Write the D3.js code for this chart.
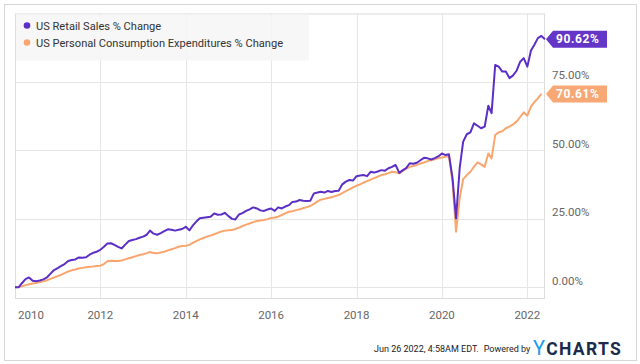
<!DOCTYPE html>
<html>
<head>
<meta charset="utf-8">
<script src="https://cdn.jsdelivr.net/npm/d3@7"></script>
<style>
  html, body { margin: 0; padding: 0; background: #fff; }
  svg { display: block; font-family: Roboto, "Noto Sans", sans-serif; }
</style>
</head>
<body>
<svg id="chart" width="640" height="364"></svg>
<script>
// ---- Data (monthly, first value = base month Dec 2009) ----
const startMonth = "2009-12";
const seriesNames = ["US Retail Sales % Change", "US Personal Consumption Expenditures % Change"];
const retailSales = [
  0, 0, 1.5, 3.0, 3.6, 2.4, 2.2, 2.5, 2.9, 3.6, 5.0, 6.3,
  7.0, 7.8, 8.5, 9.6, 10.0, 10.2, 10.9, 10.8, 11.0, 11.9, 12.6, 13.0,
  13.7, 14.8, 16.0, 16.1, 15.5, 14.8, 14.2, 15.6, 16.9, 17.3, 17.6, 18.1,
  18.5, 19.2, 20.7, 19.6, 19.2, 19.8, 20.5, 21.2, 21.0, 20.7, 21.0, 21.3,
  22.1, 20.8, 22.5, 24.0, 25.2, 25.4, 25.6, 25.8, 27.0, 26.5, 26.6, 27.2,
  26.0, 25.0, 24.8, 26.6, 27.1, 27.9, 28.5, 29.2, 28.8, 28.1, 27.9, 28.4,
  28.8, 27.9, 29.2, 28.8, 29.5, 30.0, 31.2, 31.3, 31.9, 31.6, 31.5, 31.6,
  34.3, 34.6, 34.9, 34.6, 35.2, 34.8, 35.2, 35.3, 37.6, 38.6, 39.2, 39.0,
  40.6, 40.8, 41.0, 40.6, 42.2, 41.9, 42.3, 42.8, 42.6, 43.5, 44.0, 44.7,
  41.8, 42.8, 43.5, 45.3, 45.1, 45.5, 46.4, 47.3, 47.1, 46.7, 47.2, 47.8,
  48.9, 48.3, 48.6, 39.8, 25.2, 43.5, 53.2, 55.9, 56.6, 59.9, 59.0, 58.1,
  58.7, 66.3, 63.6, 81.2, 80.6, 78.8, 78.8, 76.4, 77.4, 79.1, 82.4, 83.7,
  80.6, 86.5, 88.5, 91.0, 91.8, 90.62
];
const pce = [
  0, 0.1, 0.4, 0.8, 1.1, 1.4, 1.6, 1.9, 2.2, 2.6, 3.1, 3.6,
  4.1, 4.6, 5.2, 5.8, 6.2, 6.5, 6.9, 7.1, 7.3, 7.5, 7.6, 7.8,
  7.9, 8.5, 9.5, 9.7, 9.6, 9.6, 9.8, 10.2, 10.6, 11.0, 11.4, 11.8,
  12.1, 12.5, 12.9, 12.5, 12.4, 12.7, 13.0, 13.5, 13.9, 14.3, 14.8, 15.1,
  15.2, 15.5, 16.2, 16.9, 17.5, 18.0, 18.5, 18.9, 19.4, 19.9, 20.4, 20.7,
  20.8, 20.9, 21.3, 21.8, 22.4, 22.9, 23.3, 23.8, 24.2, 24.4, 24.6, 24.9,
  25.3, 25.5, 25.8, 26.4, 27.0, 27.6, 27.8, 28.2, 28.5, 28.9, 29.3, 29.7,
  30.5, 31.4, 32.0, 32.3, 32.6, 32.9, 33.3, 33.7, 34.4, 35.1, 35.8, 36.5,
  37.1, 37.6, 38.2, 38.8, 39.3, 39.9, 40.4, 41.0, 41.3, 41.7, 42.2, 42.0,
  41.6, 42.5, 43.3, 44.0, 44.3, 44.7, 45.2, 45.6, 46.1, 46.4, 46.8, 47.1,
  47.4, 47.7, 48.0, 38.6, 20.3, 32.5, 39.5, 41.0, 42.2, 44.0, 45.6, 44.9,
  44.0, 48.9, 47.1, 55.6, 56.6, 57.0, 58.1, 58.7, 59.5, 60.5, 62.2, 63.9,
  62.7, 66.0, 67.6, 69.0, 70.61
];
const yTicks = [0, 25, 50, 75];
const xTickYears = [2010, 2012, 2014, 2016, 2018, 2020, 2022];
const endLabels = ["90.62%", "70.61%"];
const footerText = "Jun 26 2022, 4:58AM EDT.";

// ---- Setup ----
const colors = ["#5b2fc6", "#f9a66e"];
const badgeColors = ["#6436c8", "#f8a874"];
const svg = d3.select("#chart");
const plot = { left: 15, right: 545, top: 13.5, bottom: 298 };

// month-end dates (value for month m plotted at start of following month)
const parseM = d3.timeParse("%Y-%m");
const base = d3.timeMonth.offset(parseM(startMonth), 1);
const dateOf = i => d3.timeMonth.offset(base, i);

const x = d3.scaleTime()
  .domain([dateOf(0), dateOf(retailSales.length - 1)])
  .range([plot.left, plot.right]);
const y = d3.scaleLinear().domain([-3.9, 100]).range([plot.bottom, plot.top]);

// outer border
svg.append("rect").attr("x", 4.5).attr("y", 4.5).attr("width", 632).attr("height", 356)
  .attr("fill", "none").attr("stroke", "#d6d6d6");

// gridlines
const g = svg.append("g");
g.selectAll(".hg").data(yTicks).join("line")
  .attr("x1", plot.left).attr("x2", plot.right)
  .attr("y1", d => Math.round(y(d)) + 0.5).attr("y2", d => Math.round(y(d)) + 0.5)
  .attr("stroke", "#e6e6e6").attr("stroke-width", 1);
g.selectAll(".vg").data(xTickYears.slice(1)).join("line")
  .attr("x1", d => Math.round(x(new Date(d, 0, 1))) + 0.5)
  .attr("x2", d => Math.round(x(new Date(d, 0, 1))) + 0.5)
  .attr("y1", plot.top).attr("y2", plot.bottom)
  .attr("stroke", "#e6e6e6").attr("stroke-width", 1);

// plot frame
svg.append("rect").attr("x", plot.left + 0.5).attr("y", plot.top + 0.5)
  .attr("width", plot.right - plot.left - 1).attr("height", plot.bottom - plot.top)
  .attr("fill", "none").attr("stroke", "#dcdcdc");

// y labels (right)
svg.selectAll(".yl").data(yTicks).join("text")
  .attr("x", 552).attr("y", d => y(d) - 2.5)
  .attr("font-size", 11.5).attr("fill", "#666")
  .text(d => d3.format(".2f")(d) + "%");

// x labels
svg.selectAll(".xl").data(xTickYears).join("text")
  .attr("x", d => d === 2010 ? 18 : x(new Date(d, 0, 1)))
  .attr("y", 319)
  .attr("text-anchor", d => d === 2010 ? "start" : "middle")
  .attr("font-size", 11.5).attr("fill", "#666")
  .text(d => d);

// lines
svg.append("clipPath").attr("id", "clip").append("rect")
  .attr("x", plot.left).attr("y", plot.top)
  .attr("width", plot.right - plot.left + 2).attr("height", plot.bottom - plot.top);
const line = d3.line().x((d, i) => x(dateOf(i))).y(d => y(d));
const lines = svg.append("g").attr("clip-path", "url(#clip)");
[pce, retailSales].forEach((s, k) => {
  const c = k === 0 ? colors[1] : colors[0];
  lines.append("path").datum(s).attr("d", line)
    .attr("fill", "none").attr("stroke", c).attr("stroke-width", 2)
    .attr("stroke-linejoin", "round");
});

// legend
const lg = svg.append("g");
lg.append("rect").attr("x", plot.left + 1).attr("y", plot.top + 1)
  .attr("width", 293).attr("height", 46)
  .attr("fill", "#f6f6f6").attr("fill-opacity", 0.85);
seriesNames.forEach((n, i) => {
  const cy = 25.5 + i * 17;
  lg.append("circle").attr("cx", 27).attr("cy", cy).attr("r", 3.3).attr("fill", colors[i]);
  lg.append("text").attr("x", 36).attr("y", cy + 4)
    .attr("font-size", 11.1).attr("fill", "#333").text(n);
});

// end badges
const lastVals = [retailSales[retailSales.length - 1], pce[pce.length - 1]];
lastVals.forEach((v, i) => {
  const cy = y(v);
  const h = 17, x0 = 546, tip = 7, w = 54;
  const p = `M${x0},${cy} L${x0 + tip},${cy - h / 2} L${x0 + tip + w},${cy - h / 2} L${x0 + tip + w},${cy + h / 2} L${x0 + tip},${cy + h / 2} Z`;
  svg.append("path").attr("d", p).attr("fill", badgeColors[i]);
  svg.append("text").attr("x", x0 + tip + 3).attr("y", cy + 4.3)
    .attr("font-size", 12).attr("font-weight", "bold").attr("fill", "#fff")
    .attr("letter-spacing", 0.6).text(endLabels[i]);
});

// footer
const ft = svg.append("text").attr("x", 374).attr("y", 352)
  .attr("font-size", 9).attr("fill", "#222");
ft.append("tspan").text(footerText);
ft.append("tspan").attr("dx", 5).text("Powered by");
const logo = svg.append("text").attr("x", 533).attr("y", 355)
  .attr("font-size", 17.5).attr("font-weight", "bold").attr("letter-spacing", 1.3);
logo.append("tspan").attr("fill", "#1e9be8").attr("font-weight", "normal").attr("font-size", 20).text("Y");
logo.append("tspan").attr("fill", "#1b2b4b").text("CHARTS");
</script>
</body>
</html>
